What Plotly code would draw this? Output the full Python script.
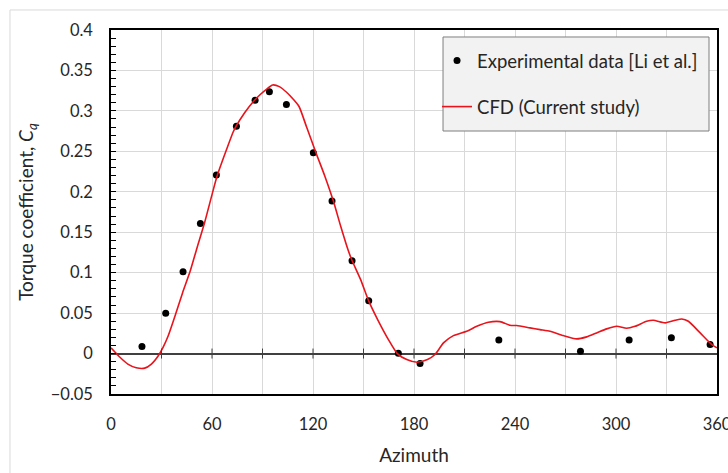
import plotly.graph_objects as go

# Experimental data [Li et al.]
exp_azimuth = [18.4, 32.5, 42.8, 53.1, 62.6, 74.5, 85.6, 94.1, 104.2, 120.2,
               131.3, 143.2, 153.1, 170.7, 183.6, 230.4, 278.9, 307.8, 332.9, 355.9]
exp_cq = [0.0086, 0.0498, 0.1012, 0.1609, 0.2206, 0.2811, 0.3132, 0.3238, 0.3078, 0.2481,
          0.1885, 0.1148, 0.0654, 0.0004, -0.0123, 0.0169, 0.0028, 0.0169, 0.0194, 0.0111]

# CFD (Current study)
cfd_azimuth = [0, 5, 10, 15, 20, 24, 28, 31, 34, 38.6, 42.5, 46.9, 51, 55.5, 60.2, 63.2,
               69.3, 72.7, 74.3, 79.5, 84.6, 88.5, 92.5, 96, 100, 104.3, 108, 111.7, 116.2,
               121.8, 127.1, 132.1, 136.5, 141, 143.2, 148.3, 153, 158.4, 164.8, 170.1,
               175.7, 181.8, 188, 192.5, 197.5, 203.4, 211.3, 217.3, 224.2, 231.1, 237,
               241, 248.9, 254.9, 260.8, 268.7, 276.6, 282.6, 288.5, 294.5, 300.4, 306.3,
               311.3, 318.2, 322.2, 329.2, 335.1, 339.1, 343, 350, 356.9, 360]
cfd_cq = [0.007, -0.004, -0.013, -0.0175, -0.018, -0.013, -0.003, 0.008, 0.022, 0.05,
          0.075, 0.101, 0.13, 0.161, 0.198, 0.2206, 0.256, 0.2745, 0.281, 0.298, 0.3116,
          0.32, 0.327, 0.332, 0.330, 0.323, 0.315, 0.3054, 0.28, 0.248, 0.219, 0.1885,
          0.157, 0.127, 0.115, 0.0914, 0.0654, 0.042, 0.0173, 0.0, -0.0074, -0.0107,
          -0.0074, -0.0012, 0.0132, 0.0222, 0.0276, 0.0337, 0.0387, 0.0395, 0.035, 0.0346,
          0.0317, 0.0296, 0.0276, 0.0222, 0.0181, 0.0206, 0.0255, 0.0305, 0.0337, 0.0313,
          0.0337, 0.0399, 0.0411, 0.0379, 0.0411, 0.0428, 0.0399, 0.0255, 0.0111, 0.007]

zero_line_ticks = [30, 60, 90, 120, 150, 180, 210, 240, 270, 300, 330]

FONT = "Lato"
TXT = "#262626"

fig = go.Figure()
fig.add_trace(go.Scatter(
    x=exp_azimuth, y=exp_cq, mode="markers", name="Experimental data [Li et al.]",
    marker=dict(color="black", size=7), legendgroup="a"))
fig.add_trace(go.Scatter(
    x=cfd_azimuth, y=cfd_cq, mode="lines", name="CFD (Current study)",
    line=dict(color="#e8141c", width=1.6, shape="spline", smoothing=0.6), legendgroup="b"))

shapes = []
for t in zero_line_ticks:
    shapes.append(dict(type="line", xref="x", yref="y", x0=t, x1=t,
                       ysizemode="pixel", yanchor=0, y0=-5, y1=5,
                       line=dict(color="#404040", width=1)))
# chart-area border
shapes.append(dict(type="rect", xref="paper", yref="paper",
                   x0=-0.1667, x1=1.05, y0=-0.25, y1=1.055,
                   line=dict(color="#d9d9d9", width=1), layer="below"))
# legend box
shapes.append(dict(type="rect", xref="paper", yref="paper",
                   x0=0.5479, x1=0.9868, y0=0.7225, y1=0.9808,
                   fillcolor="#f2f2f2", line=dict(color="#7f7f7f", width=1), layer="above"))

fig.update_layout(
    width=728, height=473,
    margin=dict(l=111, r=11, t=30, b=79, autoexpand=False),
    paper_bgcolor="white", plot_bgcolor="white",
    font=dict(family=FONT, size=16.5, color=TXT),
    showlegend=True,
    legend=dict(x=0.538, xanchor="left", y=0.967, yanchor="top",
                bgcolor="rgba(0,0,0,0)", borderwidth=0,
                font=dict(family=FONT, size=18.5, color=TXT),
                tracegroupgap=19, traceorder="grouped"),
    shapes=shapes,
)

fig.update_xaxes(
    range=[0, 360], dtick=60, tick0=0, automargin=False,
    showgrid=True, gridcolor="#d9d9d9", gridwidth=1,
    minor=dict(dtick=30, showgrid=True, gridcolor="#d9d9d9", ticks=""),
    showline=True, linecolor="black", linewidth=1.5, mirror=True,
    ticks="", ticklabelstandoff=14, zeroline=False, ticklabeloverflow="allow",
    tickfont=dict(family=FONT, size=16.5, color=TXT),
    title=dict(text="Azimuth", font=dict(family=FONT, size=19, color=TXT), standoff=16),
)
fig.update_yaxes(
    range=[-0.05, 0.4], dtick=0.05, tick0=0, automargin=False,
    showgrid=True, gridcolor="#d9d9d9", gridwidth=1,
    minor=dict(dtick=0.01, ticks="inside", ticklen=5, tickcolor="black", showgrid=False),
    ticks="inside", ticklen=5, tickcolor="black",
    showline=True, linecolor="black", linewidth=1.5, mirror=True,
    zeroline=True, zerolinecolor="#404040", zerolinewidth=1.5,
    ticklabelstandoff=13,
    tickfont=dict(family=FONT, size=16.5, color=TXT),
    title=dict(text="Torque coefficient, <i>C<sub>q</sub></i>",
               font=dict(family=FONT, size=19, color=TXT), standoff=12),
)

fig.write_html("out.html")
